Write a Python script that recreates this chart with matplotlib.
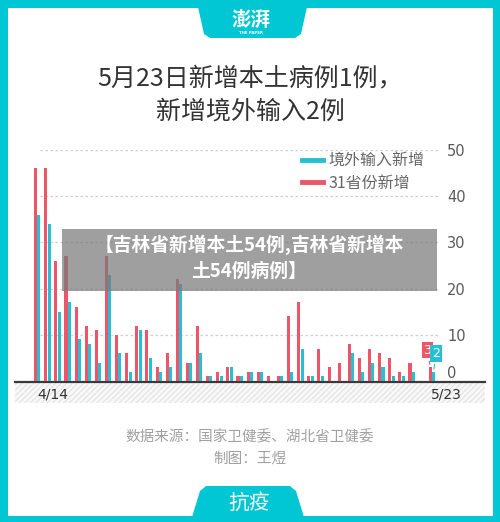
import numpy as np
import matplotlib
matplotlib.use("Agg")
import matplotlib.pyplot as plt
from matplotlib.patches import Rectangle, Polygon
from matplotlib.lines import Line2D

plt.rcParams['font.family'] = ['Noto Sans CJK SC', 'DejaVu Sans']
plt.rcParams['hatch.linewidth'] = 0.7

# 4/14 .. 5/23
start_label = "4/14"
end_label = "5/23"
total_new = [46, 46, 26, 27, 16, 12, 11, 27, 10, 6, 12, 11, 3, 6, 22, 4, 12, 1, 2, 3,
             1, 2, 2, 1, 1, 14, 17, 1, 7, 3, 4, 8, 5, 7, 6, 5, 2, 4, 0, 3]
imported_new = [36, 34, 15, 17, 9, 8, 4, 23, 6, 2, 11, 5, 2, 3, 21, 4, 6, 1, 1, 3,
                1, 2, 2, 0, 1, 2, 7, 1, 1, 0, 0, 6, 2, 4, 3, 1, 1, 2, 0, 2]
y_ticks = [0, 10, 20, 30, 40, 50]

TEAL = "#00C7D3"
CYAN = "#25C0D4"
RED = "#EE5569"

W, H = 500, 522
fig = plt.figure(figsize=(W / 100, H / 100), dpi=100)

# background / decoration layer in pixel coords
bg = fig.add_axes([0, 0, 1, 1], zorder=0)
bg.set_xlim(0, W)
bg.set_ylim(H, 0)
bg.axis("off")
bg.add_patch(Rectangle((0, 0), W, H, facecolor=TEAL, edgecolor="none"))
bg.add_patch(Rectangle((8, 8), 485, 508, facecolor="white", edgecolor="none"))

# top tab with logo
bg.add_patch(Polygon([(198, 7), (307, 7), (301, 34), (295, 38), (210, 38), (204, 34)],
                     closed=True, facecolor=TEAL, edgecolor="none"))
bg.text(251, 21, "澎湃", color="white", fontsize=14, fontweight="bold", style="italic",
        ha="center", va="center")
bg.text(251, 33, "THE PAPER", color="white", fontsize=2.8, ha="center", va="center",
        family="DejaVu Sans", fontweight="bold")

# bottom tab
bg.add_patch(Polygon([(192, 517), (200, 491), (206, 486), (290, 486), (296, 491), (304, 517)],
                     closed=True, facecolor=TEAL, edgecolor="none"))
bg.text(249, 503, "抗疫", color="white", fontsize=15, style="italic",
        ha="center", va="center")

# title
bg.text(250, 78, "5月23日新增本土病例1例，", color="#333333", fontsize=18,
        ha="center", va="center")
bg.text(250, 112, "新增境外输入2例", color="#333333", fontsize=18,
        ha="center", va="center")

# hatched band under axis
bg.add_patch(Rectangle((15, 382), 470, 21, facecolor="#f8f8f8", edgecolor="#e0e0e0",
                       hatch="//////", linewidth=0))
bg.add_line(Line2D([15, 485], [381.5, 381.5], color="#3a3a3a", linewidth=1.6))
bg.text(37, 394, start_label, color="#333333", fontsize=10, ha="left", va="center",
        family="DejaVu Sans")
bg.text(462, 394, end_label, color="#333333", fontsize=10, ha="right", va="center",
        family="DejaVu Sans")

# footer
bg.text(250, 437, "数据来源：国家卫健委、湖北省卫健委", color="#a0a0a0", fontsize=10.5,
        ha="center", va="center")
bg.text(250, 459, "制图：王煜", color="#a0a0a0", fontsize=10.5,
        ha="center", va="center")

# chart axes
px_left, px_right = 28, 440
px_top, px_bottom = 150, 381
ax = fig.add_axes([px_left / W, 1 - px_bottom / H, (px_right - px_left) / W,
                   (px_bottom - px_top) / H], zorder=1)
ax.patch.set_alpha(0)

n = len(total_new)
x = np.arange(n)
bw = 0.3
ax.bar(x - 0.165, total_new, width=bw, color=RED, zorder=3)
ax.bar(x + 0.165, imported_new, width=bw, color=CYAN, zorder=3)

ax.set_xlim(-0.92, 39.8)
ax.set_ylim(0, 50)
ax.hlines(y_ticks[1:], 0.27, 39.8, colors="#cfcfcf", linestyles=(0, (2, 2)),
          linewidth=0.9, zorder=1)

ax.yaxis.tick_right()
ax.set_yticks(y_ticks)
ax.set_yticklabels([str(t) for t in y_ticks], family="DejaVu Sans")
ax.tick_params(axis="y", length=0, pad=5, labelsize=10.5, labelcolor="#5a5a5a")
ax.get_yticklabels()[0].set_verticalalignment("bottom")
ax.set_xticks([])
for s in ax.spines.values():
    s.set_visible(False)

# value labels on the last day
last = n - 1
ax.annotate(str(total_new[last]), xy=(last - 0.165, total_new[last]),
            xytext=(last - 0.45, 6.7), color="white", fontsize=9, ha="center", va="center",
            family="DejaVu Sans",
            bbox=dict(boxstyle="square,pad=0.15", facecolor=RED, edgecolor="none"),
            arrowprops=dict(arrowstyle="-", color=RED, linewidth=0.8), zorder=4)
ax.annotate(str(imported_new[last]), xy=(last + 0.165, imported_new[last]),
            xytext=(last + 0.4, 6.0), color="white", fontsize=9, ha="center", va="center",
            family="DejaVu Sans",
            bbox=dict(boxstyle="square,pad=0.15", facecolor=CYAN, edgecolor="none"),
            arrowprops=dict(arrowstyle="-", color=CYAN, linewidth=0.8), zorder=4)

# legend
leg_handles = [Line2D([0], [0], color=CYAN, linewidth=3.5),
               Line2D([0], [0], color=RED, linewidth=3.5)]
leg = ax.legend(leg_handles, ["境外输入新增", "31省份新增"], loc="upper left",
                bbox_to_anchor=((302 - px_left) / (px_right - px_left), 1 - 3 / 231),
                frameon=False, fontsize=11.5, handlelength=1.3, handletextpad=0.35,
                labelspacing=0.3, borderpad=0, borderaxespad=0)
for t in leg.get_texts():
    t.set_color("#666666")

# overlay banner
top = fig.add_axes([0, 0, 1, 1], zorder=2)
top.set_xlim(0, W)
top.set_ylim(H, 0)
top.axis("off")
top.patch.set_alpha(0)
top.add_patch(Rectangle((62, 229), 375, 62, facecolor="#7a7a7a", alpha=0.72,
                        edgecolor="none"))
top.text(249, 245, "【吉林省新增本土54例,吉林省新增本", color="white", fontsize=13.5,
         fontweight="bold", ha="center", va="center")
top.text(249, 271, "土54例病例】", color="white", fontsize=13.5,
         fontweight="bold", ha="center", va="center")

fig.savefig("out.png", dpi=100)
